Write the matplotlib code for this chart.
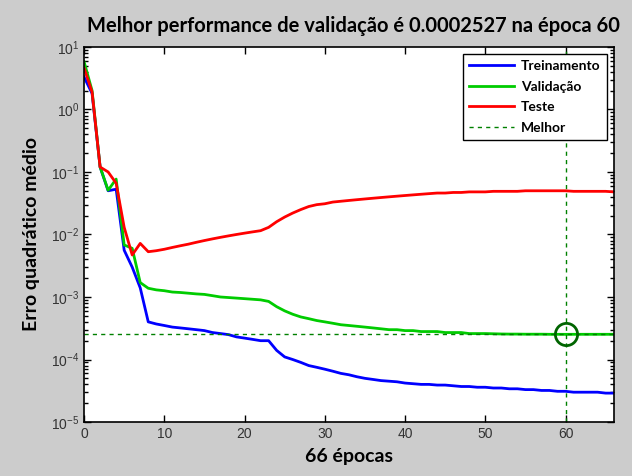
"""
Curva de desempenho do treinamento (estilo MATLAB nntraintool).
"""

import matplotlib
matplotlib.use('Agg')
import matplotlib.pyplot as plt
from matplotlib.ticker import LogLocator, NullFormatter

plt.rcParams['font.family'] = ['Lato', 'DejaVu Sans']

epocas = list(range(0, 67))

treinamento = [
    3.3, 1.8, 0.12, 0.05, 0.053, 0.0056, 0.003, 0.0014, 0.0004, 0.00037,
    0.00035, 0.00033, 0.00032, 0.00031, 0.0003, 0.00029, 0.00027, 0.00026, 0.00025, 0.00023,
    0.00022, 0.00021, 0.0002, 0.0002, 0.00014, 0.00011, 0.0001, 0.00009, 0.00008, 0.000075,
    0.00007, 0.000065, 0.00006, 0.000057, 0.000053, 0.00005, 0.000048, 0.000046, 0.000045, 0.000044,
    0.000042, 0.000041, 0.00004, 0.00004, 0.000039, 0.000039, 0.000038, 0.000037, 0.000037, 0.000036,
    0.000036, 0.000035, 0.000035, 0.000034, 0.000034, 0.000033, 0.000033, 0.000032, 0.000032, 0.000031,
    0.000031, 0.00003, 0.00003, 0.00003, 0.00003, 0.000029, 0.000029,
]

validacao = [
    5.8, 2.0, 0.12, 0.051, 0.077, 0.0068, 0.006, 0.0017, 0.00138, 0.0013,
    0.00126, 0.0012, 0.00118, 0.00115, 0.00112, 0.0011, 0.00105, 0.001, 0.00098, 0.00096,
    0.00094, 0.00092, 0.0009, 0.00085, 0.0007, 0.0006, 0.00053, 0.00048, 0.00045, 0.00042,
    0.0004, 0.00038, 0.00036, 0.00035, 0.00034, 0.00033, 0.00032, 0.00031, 0.0003, 0.0003,
    0.00029, 0.00029, 0.00028, 0.00028, 0.00028, 0.00027, 0.00027, 0.00027, 0.00026, 0.00026,
    0.00026, 0.000258, 0.000256, 0.000255, 0.000255, 0.000254, 0.000254, 0.000254, 0.000253, 0.000253,
    0.0002527, 0.000253, 0.000253, 0.000253, 0.000253, 0.000253, 0.000253,
]

teste = [
    4.6, 1.9, 0.12, 0.1, 0.066, 0.013, 0.0047, 0.0072, 0.0053, 0.0055,
    0.0058, 0.0062, 0.0066, 0.007, 0.0075, 0.008, 0.0085, 0.009, 0.0095, 0.01,
    0.0105, 0.011, 0.0115, 0.013, 0.016, 0.019, 0.022, 0.025, 0.028, 0.03,
    0.031, 0.033, 0.034, 0.035, 0.036, 0.037, 0.038, 0.039, 0.04, 0.041,
    0.042, 0.043, 0.044, 0.045, 0.046, 0.046, 0.047, 0.047, 0.048, 0.048,
    0.048, 0.049, 0.049, 0.049, 0.049, 0.05, 0.05, 0.05, 0.05, 0.05,
    0.05, 0.049, 0.049, 0.049, 0.049, 0.049, 0.048,
]

melhor_epoca = 60
melhor_valor = 0.0002527

fig = plt.figure(figsize=(6.32, 4.76), dpi=100, facecolor='#cccccc')
ax = fig.add_axes([0.133, 0.1134, 0.838, 0.788])
ax.set_facecolor('white')

ax.plot(epocas, treinamento, color='#0000ff', lw=2, label='Treinamento')
ax.plot(epocas, validacao, color='#00cc00', lw=2, label='Validação')
ax.plot(epocas, teste, color='#ff0000', lw=2, label='Teste')
ax.axhline(melhor_valor, color='#008000', lw=1, ls=(0, (3, 3)), label='Melhor')
ax.axvline(melhor_epoca, color='#008000', lw=1, ls=(0, (3, 3)))
ax.plot([melhor_epoca], [melhor_valor], marker='o', ms=16, mfc='none',
        mec='#006400', mew=2)

ax.set_yscale('log')
ax.set_xlim(0, 66)
ax.set_ylim(1e-5, 10)
ax.set_xticks(range(0, 61, 10))
ax.yaxis.set_major_locator(LogLocator(base=10, numticks=10))
ax.yaxis.set_minor_locator(LogLocator(base=10, subs=range(2, 10), numticks=10))
ax.yaxis.set_minor_formatter(NullFormatter())
ax.tick_params(which='both', direction='in', top=True, right=True,
               labelsize=10, labelcolor='#333333', width=1)
ax.tick_params(which='major', length=5)
ax.tick_params(which='minor', length=3)
for lbl in ax.get_xticklabels() + ax.get_yticklabels():
    lbl.set_fontfamily(['Liberation Sans', 'DejaVu Sans'])
for spine in ax.spines.values():
    spine.set_linewidth(1.2)

fig.text(353 / 632, 1 - 26 / 476,
         'Melhor performance de validação é 0.0002527 na época 60',
         fontsize=14.5, fontweight='bold', ha='center', va='center')
ax.set_xlabel('66 épocas', fontsize=14, fontweight='bold', labelpad=5)
ax.set_ylabel('Erro quadrático médio', fontsize=14, fontweight='bold', labelpad=8)

leg = ax.legend(loc='upper right', fontsize=10, fancybox=False, framealpha=1,
                edgecolor='black', handlelength=3.2, handletextpad=0.5,
                borderpad=0.45, labelspacing=0.62, borderaxespad=0.5)
leg.get_frame().set_linewidth(1)
for t in leg.get_texts():
    t.set_fontweight('bold')

fig.savefig('out.png', dpi=100, facecolor=fig.get_facecolor())
